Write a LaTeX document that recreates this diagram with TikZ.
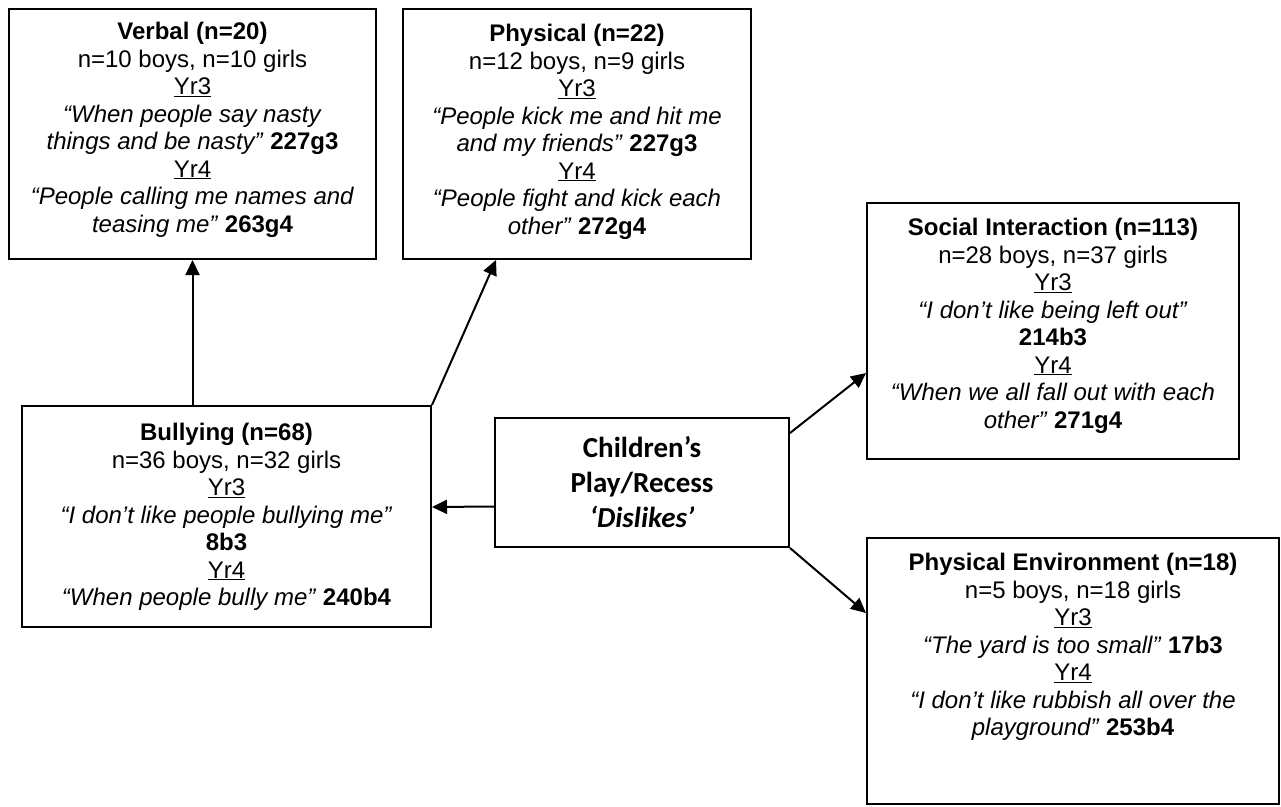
\documentclass[tikz,border=0pt]{standalone}
\usepackage{fontspec}
\setmainfont{Liberation Sans}
\newfontfamily\calibri{Carlito}
\usetikzlibrary{arrows.meta}

\begin{document}
\begin{tikzpicture}[x=1pt, y=-1pt,
  box/.style={draw, line width=2pt, rectangle, inner sep=0pt},
  txt/.style={anchor=north, align=center, inner sep=0pt, font=\fontsize{24}{27.5}\selectfont},
  arr/.style={-{Triangle[length=15pt,width=14pt]}, line width=2pt}]
  \useasboundingbox (0,0) rectangle (1281,806);

  % boxes
  \node[box, minimum width=367pt, minimum height=250pt] (verbal) at (192.5,134) {};
  \node[box, minimum width=348pt, minimum height=250pt] (physical) at (577,134) {};
  \node[box, minimum width=372pt, minimum height=256pt] (social) at (1053,331) {};
  \node[box, minimum width=409pt, minimum height=221pt] (bullying) at (226.5,516.5) {};
  \node[box, minimum width=412pt, minimum height=266pt] (physenv) at (1073,671) {};
  \node[box, minimum width=294pt, minimum height=129pt, align=center,
        font=\calibri\bfseries\fontsize{29}{35}\selectfont] (children) at (642,482.5)
        {Children’s\\Play/Recess\\\textit{‘Dislikes’}};

  % texts
  \node[txt] (verbal-t) at ([yshift=-14pt]verbal.north) {\textbf{Verbal (n=20)}\\
    n=10 boys, n=10 girls\\ \underline{Yr3}\\
    \textit{“When people say nasty}\\ \textit{things and be nasty”} \textbf{227g3}\\
    \underline{Yr4}\\ \textit{“People calling me names and}\\
    \textit{teasing me”} \textbf{263g4}};
  \node[txt] (physical-t) at ([yshift=-16pt]physical.north) {\textbf{Physical (n=22)}\\
    n=12 boys, n=9 girls\\ \underline{Yr3}\\
    \textit{“People kick me and hit me}\\ \textit{and my friends”} \textbf{227g3}\\
    \underline{Yr4}\\ \textit{“People fight and kick each}\\
    \textit{other”} \textbf{272g4}};
  \node[txt] (social-t) at ([yshift=-16pt]social.north) {\textbf{Social Interaction (n=113)}\\
    n=28 boys, n=37 girls\\ \underline{Yr3}\\
    \textit{“I don’t like being left out”}\\ \textbf{214b3}\\
    \underline{Yr4}\\ \textit{“When we all fall out with each}\\
    \textit{other”} \textbf{271g4}};
  \node[txt] (bullying-t) at ([yshift=-18pt]bullying.north) {\textbf{Bullying (n=68)}\\
    n=36 boys, n=32 girls\\ \underline{Yr3}\\
    \textit{“I don’t like people bullying me”}\\ \textbf{8b3}\\
    \underline{Yr4}\\ \textit{“When people bully me”} \textbf{240b4}};
  \node[txt] (physenv-t) at ([yshift=-16pt]physenv.north) {\textbf{Physical Environment (n=18)}\\
    n=5 boys, n=18 girls\\ \underline{Yr3}\\
    \textit{“The yard is too small”} \textbf{17b3}\\
    \underline{Yr4}\\ \textit{“I don’t like rubbish all over the}\\
    \textit{playground”} \textbf{253b4}};

  % arrows
  \draw[arr] (bullying.north -| verbal.south) -- (verbal.south);
  \draw[arr] (bullying.north east) -- ([xshift=94pt]physical.south west);
  \draw[arr] ([yshift=-24pt]children.west) -- ([yshift=9.5pt]bullying.east);
  \draw[arr] ([yshift=-16pt]children.north east) -- ([yshift=-42pt]social.west);
  \draw[arr] (children.south east) -- ([yshift=58pt]physenv.west);
\end{tikzpicture}
\end{document}
